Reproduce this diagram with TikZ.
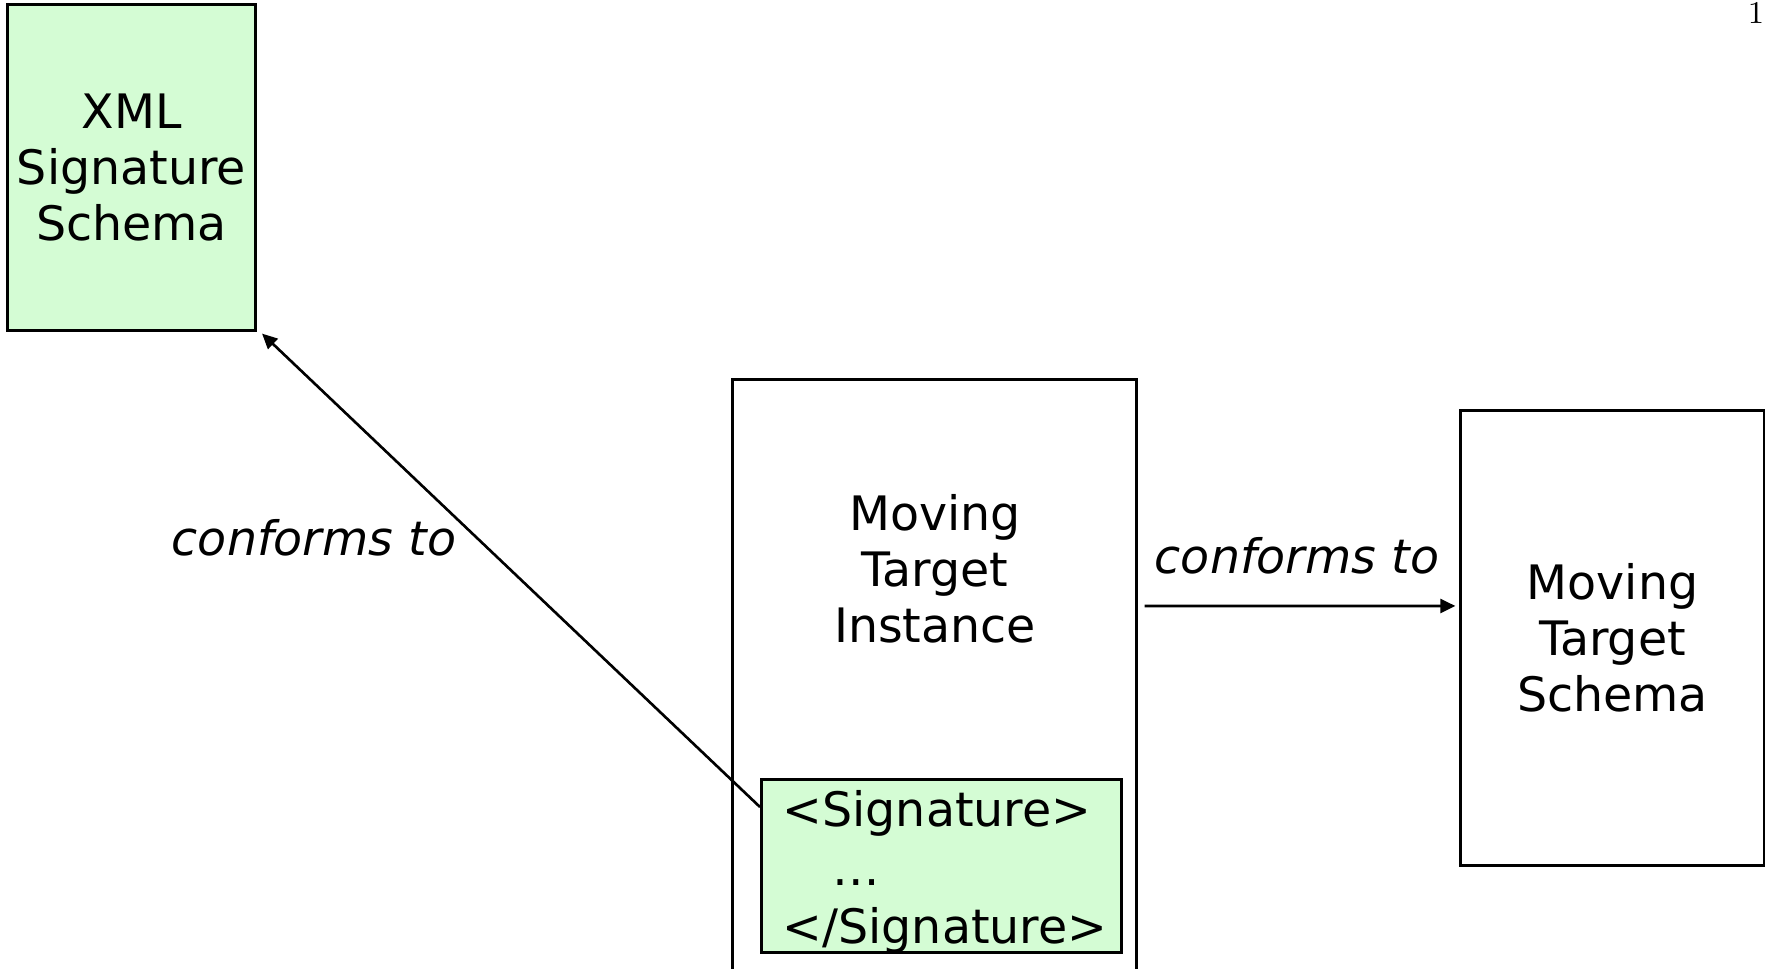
\documentclass[tikz,border=0pt]{standalone}
\usepackage{fontspec}
\setmainfont{DejaVu Sans}
\newfontfamily\numfont{Latin Modern Roman}
\usetikzlibrary{arrows.meta,calc}
\definecolor{sigfill}{RGB}{212,252,212}
\tikzset{
  px/.style={x=0.01cm,y=-0.01cm},
  box/.style={draw=black,line width=0.85pt,inner sep=0pt},
  greenbox/.style={box,fill=sigfill},
  lbl/.style={font=\fontsize{13.5}{15.9}\selectfont,align=center,inner sep=0pt},
  rel/.style={font=\fontsize{13.5}{15.9}\selectfont\itshape,inner sep=0pt},
  conn/.style={line width=0.75pt,-{Triangle[length=4.3pt,width=4pt]}}
}
\begin{document}
\begin{tikzpicture}[px]
\useasboundingbox (0,0) rectangle (1765,969);

% schema boxes
\node[greenbox,minimum width=2.48cm,minimum height=3.25cm,lbl] (xml) at (131.5,167.5)
  {XML\\Signature\\Schema};
\node[box,minimum width=3.03cm,minimum height=4.54cm,lbl] (mts) at (1612.5,638)
  {Moving\\Target\\Schema};

% instance document with embedded signature element
\node[box,minimum width=4.03cm,minimum height=6.4cm] (mti) at (934.5,700) {};
\node[lbl] (mtitext) at (935,569) {Moving\\Target\\Instance};
\node[greenbox,minimum width=3.6cm,minimum height=1.73cm,anchor=north west] (sig) at (760,778) {};
\node[font=\fontsize{13.5}{16.6}\selectfont,align=left,anchor=north west,inner sep=0pt] (sigtext)
  at (782,790) {<Signature>\\\hspace{0.5cm}…\\</Signature>};

% relations
\draw[conn] ([yshift=-0.29cm]sig.north west) -- ([xshift=0.05cm,yshift=-0.02cm]xml.south east);
\node[rel] (rel1) at (314,538) {conforms to};
\draw[conn] ([xshift=0.07cm,yshift=0.94cm]mti.east) -- ([xshift=-0.04cm,yshift=0.32cm]mts.west);
\node[rel] (rel2) at (1297,556) {conforms to};

% page number
\node[font=\numfont\fontsize{9}{9}\selectfont,inner sep=0pt,anchor=base] (pg) at (1756,23) {1};
\end{tikzpicture}
\end{document}
